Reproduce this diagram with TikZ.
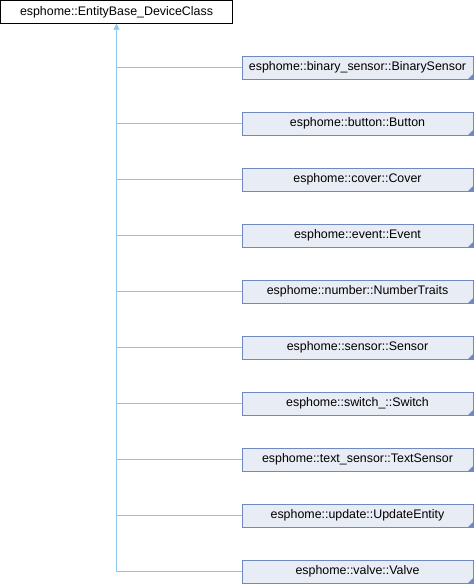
\documentclass[tikz,border=0pt]{standalone}
\usepackage{fontspec}
\setmainfont{Liberation Sans}
\usetikzlibrary{positioning,arrows.meta}
\definecolor{edgeblue}{HTML}{8CC8EC}
\definecolor{boxfill}{HTML}{E8ECF5}
\definecolor{boxline}{HTML}{7088C4}

\begin{document}
\begin{tikzpicture}[
    node distance=32.6pt,
    base/.style={rectangle, draw=black, fill=white, minimum width=232pt, minimum height=23pt, inner sep=0pt, font=\fontsize{12.4}{14}\selectfont},
    derived/.style={rectangle, draw=boxline, fill=boxfill, minimum width=231pt, minimum height=23pt, inner sep=0pt, font=\fontsize{12.4}{14}\selectfont,
        path picture={\fill[boxline] (path picture bounding box.south east) -- ++(-5pt,0) -- ++(5pt,5pt) -- cycle;}},
    link/.style={draw=edgeblue, line width=0.9pt},
    arrow/.style={link, -{Triangle[length=6pt, width=6pt, fill=edgeblue]}}
]
\useasboundingbox (0,0) rectangle (474pt,-584pt);
\node[base] (entity) at (116.5pt,-12pt) {esphome::EntityBase\_DeviceClass};
\node[derived] (binsensor) at (357.5pt,-67.5pt) {esphome::binary\_sensor::BinarySensor};
\node[derived, below=of binsensor] (button) {esphome::button::Button};
\node[derived, below=of button] (cover) {esphome::cover::Cover};
\node[derived, below=of cover] (event) {esphome::event::Event};
\node[derived, below=of event] (number) {esphome::number::NumberTraits};
\node[derived, below=of number] (sensor) {esphome::sensor::Sensor};
\node[derived, below=of sensor] (switch) {esphome::switch\_::Switch};
\node[derived, below=of switch] (textsensor) {esphome::text\_sensor::TextSensor};
\node[derived, below=of textsensor] (update) {esphome::update::UpdateEntity};
\node[derived, below=of update] (valve) {esphome::valve::Valve};

\draw[arrow] (valve.west) -| (entity.south);
\foreach \cls in {binsensor,button,cover,event,number,sensor,switch,textsensor,update}
  \draw[link] (\cls.west) -- (\cls.west -| entity.south);
\end{tikzpicture}
\end{document}
